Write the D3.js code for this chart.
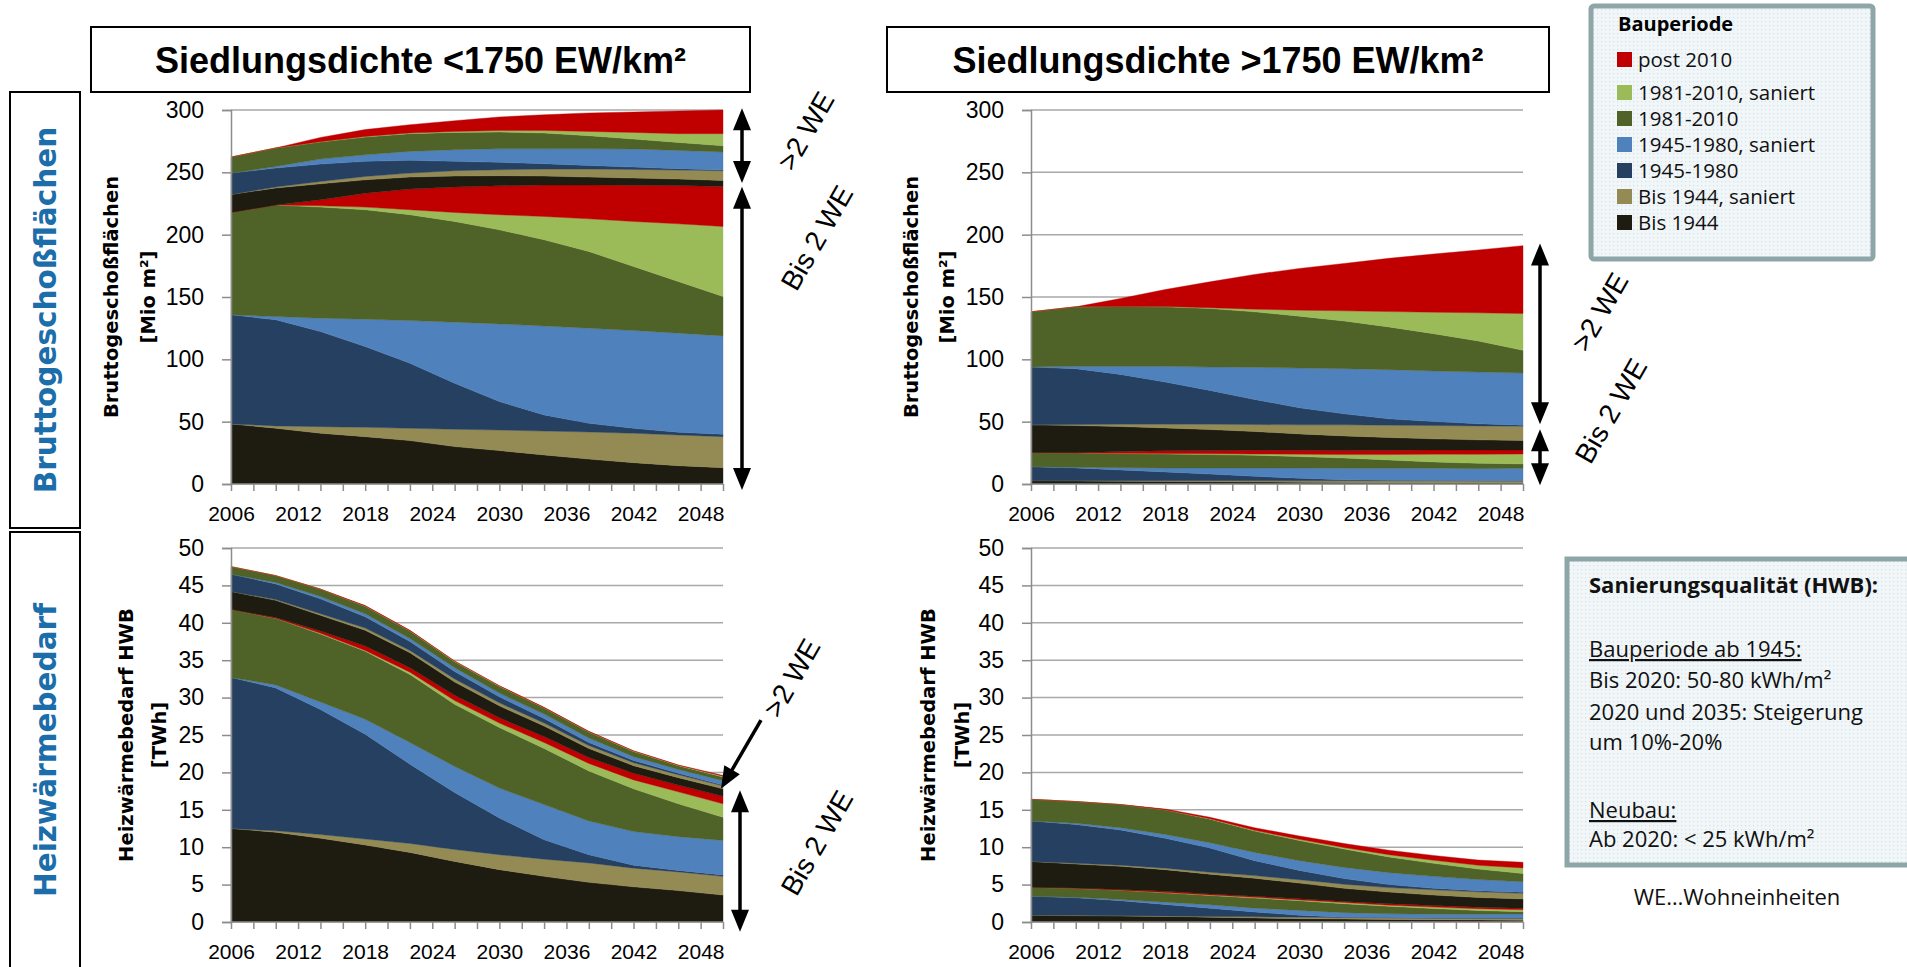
<!DOCTYPE html>
<html>
<head>
<meta charset="utf-8">
<script src="https://cdn.jsdelivr.net/npm/d3@7"></script>
<style>
  body { margin: 0; background: #fff; }
  svg text { font-family: "Liberation Sans", Arial, sans-serif; }
</style>
</head>
<body>
<svg id="chart" width="1907" height="967"></svg>
<script>
// years with data points, tick labels
const years = [2006, 2010, 2014, 2018, 2022, 2026, 2030, 2034, 2038, 2042, 2046, 2050];
const labelYears = [2006, 2012, 2018, 2024, 2030, 2036, 2042, 2048];

const periods = ["Bis 1944", "Bis 1944, saniert", "1945-1980", "1945-1980, saniert",
                 "1981-2010", "1981-2010, saniert", "post 2010"];
const periodColors = ["#1e1b10", "#948a54", "#254061", "#4f81bd", "#4f6228", "#9bbb59", "#c00000"];

// Bruttogeschossflaechen, Siedlungsdichte <1750 (Mio m2) - rows follow periods
const gfaLowBis2 = [
  [48.2, 44.7, 40.7, 38.0, 34.8, 30.0, 26.8, 23.3, 20.0, 17.1, 14.7, 13.1],
  [0, 1.9, 5.3, 7.5, 9.9, 13.9, 16.5, 19.2, 21.7, 23.6, 24.6, 24.9],
  [87.5, 85.1, 76.3, 64.7, 52.2, 36.9, 22.8, 12.9, 7.0, 4.0, 2.2, 1.9],
  [0, 2.6, 10.7, 22.0, 34.2, 49.0, 62.3, 71.4, 76.3, 78.4, 79.5, 78.9],
  [82.1, 89.4, 89.1, 87.8, 84.9, 80.8, 75.5, 69.1, 61.5, 51.4, 41.4, 31.6],
  [0, 0, 1.1, 2.1, 4.0, 7.2, 12.1, 18.7, 26.2, 36.1, 46.3, 56.2],
  [0, 0, 4.8, 11.2, 16.6, 20.4, 23.2, 25.2, 27.1, 29.0, 30.7, 32.1]
];
const gfaLowMulti = [
  [14.5, 13.7, 12.8, 10.7, 9.6, 8.8, 8.1, 7.2, 6.4, 5.8, 5.2, 4.8],
  [0, 0.8, 1.9, 2.7, 3.2, 4.3, 4.8, 5.6, 6.4, 6.9, 7.2, 7.8],
  [17.1, 15.2, 13.9, 12.1, 10.2, 7.5, 5.9, 4.3, 2.9, 1.9, 1.1, 0.5],
  [0, 1.3, 4.0, 5.3, 7.2, 9.3, 10.9, 12.0, 13.4, 14.5, 14.7, 14.5],
  [12.8, 14.8, 13.7, 14.2, 14.2, 13.9, 13.4, 12.6, 10.5, 8.0, 6.4, 5.0],
  [0, 0, 0.3, 0.5, 0.5, 0.8, 1.3, 2.1, 3.4, 5.3, 7.0, 9.7],
  [0, 0, 3.4, 5.5, 6.7, 8.6, 10.8, 12.6, 14.8, 16.4, 18.2, 19.0]
];

// Bruttogeschossflaechen, Siedlungsdichte >1750
const gfaHighBis2 = [
  [2.7, 2.5, 2.2, 2.0, 1.8, 1.6, 1.4, 1.2, 1.1, 1.0, 1.0, 1.1],
  [0, 0.2, 0.4, 0.6, 0.8, 1.0, 1.2, 1.4, 1.5, 1.6, 1.6, 1.3],
  [11.2, 10.2, 8.7, 7.1, 5.4, 3.6, 2.0, 0.9, 0.4, 0.2, 0.1, 0.3],
  [0, 0.5, 1.8, 3.2, 4.9, 6.7, 8.3, 9.1, 9.6, 9.8, 9.6, 9.9],
  [11.3, 11.3, 11.3, 11.2, 10.7, 10.2, 9.1, 8.3, 6.7, 5.1, 4.3, 3.5],
  [0, 0, 0.2, 0.4, 0.6, 1.0, 1.9, 2.7, 4.3, 6.2, 7.2, 8.0],
  [0, 0.3, 1.5, 2.2, 2.6, 2.9, 3.1, 3.3, 3.4, 3.4, 3.5, 3.2]
];
const gfaHighMulti = [
  [22.3, 21.9, 20.0, 18.3, 16.9, 15.1, 13.2, 11.7, 10.3, 8.9, 8.1, 7.6],
  [0, 0.8, 1.9, 3.0, 4.3, 5.6, 7.3, 8.9, 9.9, 10.7, 11.2, 11.5],
  [46.3, 44.8, 39.9, 33.8, 27.1, 20.1, 13.6, 8.8, 5.1, 3.2, 1.7, 0.8],
  [0, 1.9, 6.5, 12.6, 18.7, 25.8, 31.9, 36.2, 39.4, 40.5, 41.5, 41.8],
  [44.3, 47.7, 48.0, 47.7, 47.0, 44.5, 41.6, 38.3, 34.3, 30.0, 24.9, 18.2],
  [0, 0, 0, 0.3, 0.6, 2.1, 4.8, 8.1, 12.3, 17.2, 22.6, 29.5],
  [0, 0, 6.4, 13.6, 20.8, 27.9, 33.5, 38.0, 42.7, 46.7, 50.4, 54.5]
];

// Heizwaermebedarf, Siedlungsdichte <1750 (TWh)
const hwbLowBis2 = [
  [12.5, 12.0, 11.2, 10.3, 9.3, 8.1, 7.0, 6.1, 5.3, 4.7, 4.2, 3.6],
  [0, 0.2, 0.5, 0.8, 1.2, 1.6, 2.0, 2.3, 2.6, 2.5, 2.5, 2.5],
  [20.2, 19.1, 16.7, 14.0, 10.6, 7.6, 4.9, 2.6, 1.1, 0.4, 0.2, 0.2],
  [0, 0.4, 1.0, 2.0, 2.9, 3.5, 4.0, 4.7, 4.5, 4.5, 4.5, 4.6],
  [9.1, 8.9, 9.1, 9.1, 9.1, 8.3, 8.1, 7.5, 6.7, 5.7, 4.4, 3.1],
  [0, 0, 0.1, 0.1, 0.3, 0.5, 0.6, 0.8, 1.0, 1.2, 1.6, 1.8],
  [0, 0.1, 0.3, 0.6, 0.6, 0.7, 0.7, 0.8, 0.8, 0.9, 0.9, 1.0]
];
const hwbLowMulti = [
  [2.4, 2.3, 2.1, 2.1, 2.0, 1.8, 1.6, 1.4, 1.2, 1.0, 1.0, 1.0],
  [0, 0.1, 0.2, 0.3, 0.3, 0.4, 0.4, 0.4, 0.4, 0.4, 0.4, 0.4],
  [2.3, 2.1, 2.0, 1.5, 1.2, 1.0, 0.8, 0.6, 0.4, 0.3, 0.2, 0.1],
  [0, 0.2, 0.3, 0.4, 0.4, 0.5, 0.5, 0.6, 0.6, 0.5, 0.5, 0.6],
  [1.0, 0.9, 1.0, 1.0, 1.0, 0.8, 0.9, 0.8, 0.8, 0.7, 0.5, 0.5],
  [0, 0, 0, 0.05, 0.05, 0.05, 0.05, 0.05, 0.05, 0.05, 0.05, 0.1],
  [0, 0, 0, 0.05, 0.05, 0.05, 0.05, 0.05, 0.05, 0.05, 0.05, 0.1]
];

// Heizwaermebedarf, Siedlungsdichte >1750
const hwbHighBis2 = [
  [0.9, 0.85, 0.8, 0.75, 0.65, 0.55, 0.45, 0.4, 0.35, 0.3, 0.28, 0.25],
  [0, 0.05, 0.05, 0.05, 0.1, 0.15, 0.2, 0.2, 0.2, 0.2, 0.22, 0.25],
  [2.55, 2.35, 2.0, 1.55, 1.1, 0.65, 0.25, 0.05, 0.05, 0.05, 0.03, 0.03],
  [0, 0.05, 0.15, 0.3, 0.45, 0.5, 0.65, 0.6, 0.5, 0.5, 0.5, 0.55],
  [1.2, 1.2, 1.25, 1.25, 1.25, 1.35, 1.3, 1.2, 1.0, 0.75, 0.5, 0.3],
  [0, 0, 0, 0.05, 0.05, 0.1, 0.1, 0.15, 0.15, 0.2, 0.25, 0.25],
  [0, 0.05, 0.1, 0.15, 0.15, 0.15, 0.15, 0.15, 0.2, 0.2, 0.2, 0.2]
];
const hwbHighMulti = [
  [3.45, 3.2, 3.1, 2.9, 2.65, 2.4, 2.1, 1.75, 1.55, 1.4, 1.3, 1.25],
  [0, 0.1, 0.15, 0.2, 0.25, 0.35, 0.45, 0.55, 0.6, 0.7, 0.75, 0.75],
  [5.4, 5.2, 4.7, 4.0, 3.25, 2.0, 1.25, 0.75, 0.4, 0.2, 0.15, 0.15],
  [0, 0.15, 0.3, 0.5, 0.7, 1.1, 1.3, 1.5, 1.6, 1.6, 1.5, 1.4],
  [2.9, 2.9, 3.1, 3.3, 3.15, 2.85, 2.7, 2.45, 2.1, 1.75, 1.4, 1.1],
  [0, 0, 0, 0, 0.05, 0.1, 0.15, 0.2, 0.3, 0.4, 0.5, 0.75],
  [0, 0, 0, 0.1, 0.2, 0.35, 0.45, 0.55, 0.6, 0.65, 0.7, 0.75]
];

const svg = d3.select("#chart");

// dotted fill used by the two text boxes
const defs = svg.append("defs");
const pat = defs.append("pattern").attr("id", "dots")
  .attr("width", 4).attr("height", 4).attr("patternUnits", "userSpaceOnUse");
pat.append("rect").attr("width", 4).attr("height", 4).attr("fill", "#f1f6f8");
pat.append("rect").attr("x", 1).attr("y", 1).attr("width", 1.2).attr("height", 1.2).attr("fill", "#d3e2e8");

function drawPanel(p) {
  const x = d3.scaleLinear().domain([2006, 2050]).range([p.x0, p.x1]);
  const y = d3.scaleLinear().domain([0, p.yMax]).range([p.yB, p.yT]);
  const g = svg.append("g");

  const yTicks = d3.range(0, p.yMax + 0.001, p.yStep);

  g.selectAll("line.grid").data(yTicks.filter(d => d > 0)).enter()
    .append("line").attr("class", "grid")
    .attr("x1", p.x0).attr("x2", p.x1)
    .attr("y1", d => y(d)).attr("y2", d => y(d))
    .attr("stroke", "#a9a9a9").attr("stroke-width", 1.5);

  const rows = years.map((yr, i) => {
    const r = { year: yr };
    p.bis2.forEach((s, k) => r["b" + k] = s[i]);
    p.multi.forEach((s, k) => r["m" + k] = s[i]);
    return r;
  });
  const keys = periods.map((_, k) => "b" + k).concat(periods.map((_, k) => "m" + k));
  const stacked = d3.stack().keys(keys)(rows);

  const area = d3.area()
    .x(d => x(d.data.year))
    .y0(d => y(d[0]))
    .y1(d => y(d[1]));

  g.selectAll("path.layer").data(stacked).enter()
    .append("path").attr("class", "layer")
    .attr("d", area)
    .attr("fill", (d, i) => periodColors[i % 7])
    .attr("stroke", (d, i) => periodColors[i % 7])
    .attr("stroke-width", 0.4);

  const yAxis = g.append("g").attr("transform", `translate(${p.x0},0)`)
    .call(d3.axisLeft(y).tickValues(yTicks).tickSize(9).tickPadding(18).tickFormat(d3.format("d")));
  yAxis.selectAll("path,line").attr("stroke", "#8c8c8c").attr("stroke-width", 1.5);
  yAxis.selectAll("text").attr("font-size", 23).attr("fill", "#000")
    .style("font-family", "'Liberation Sans', Arial, sans-serif");

  const xAxis = g.append("g").attr("transform", `translate(0,${p.yB})`)
    .call(d3.axisBottom(x).tickValues(d3.range(2006, 2051, 2)).tickSize(7).tickPadding(15)
      .tickFormat(d => labelYears.includes(d) ? d : ""));
  xAxis.select(".domain").remove();
  xAxis.append("line").attr("x1", p.x0).attr("x2", p.x1)
    .attr("stroke", "#8c8c8c").attr("stroke-width", 1.5);
  xAxis.selectAll("line").attr("stroke", "#8c8c8c").attr("stroke-width", 1.5);
  xAxis.selectAll("text").attr("font-size", 21).attr("fill", "#000")
    .style("font-family", "'Liberation Sans', Arial, sans-serif");

  // axis title, two lines
  p.yTitle.forEach((t, i) => {
    g.append("text")
      .attr("transform", `translate(${p.titleX + i * p.titleGap},${p.titleY}) rotate(-90)`)
      .attr("text-anchor", "middle").attr("dominant-baseline", "central")
      .style("font-family", "'DejaVu Sans', Verdana, sans-serif")
      .attr("font-weight", "bold").attr("font-size", 19.5).text(t);
  });
  return { x, y };
}

function arrowHead(g, xt, yt, ang) {
  const L = 22, W = 9;
  const bx = xt - L * Math.cos(ang), by = yt - L * Math.sin(ang);
  const nx = -Math.sin(ang), ny = Math.cos(ang);
  g.append("path")
    .attr("d", `M${xt},${yt}L${bx + nx * W},${by + ny * W}L${bx - nx * W},${by - ny * W}Z`)
    .attr("fill", "#000");
}
function arrow(x1, y1, x2, y2, both) {
  const g = svg.append("g");
  const ang = Math.atan2(y2 - y1, x2 - x1);
  const s = both ? 18 : 0;
  g.append("line")
    .attr("x1", x1 + s * Math.cos(ang)).attr("y1", y1 + s * Math.sin(ang))
    .attr("x2", x2 - 18 * Math.cos(ang)).attr("y2", y2 - 18 * Math.sin(ang))
    .attr("stroke", "#000").attr("stroke-width", 3.5);
  arrowHead(g, x2, y2, ang);
  if (both) arrowHead(g, x1, y1, ang + Math.PI);
}
function slanted(x, y, t) {
  svg.append("text").attr("transform", `translate(${x},${y}) rotate(-60)`)
    .attr("text-anchor", "middle").attr("dominant-baseline", "central")
    .attr("font-size", 28).text(t);
}

// panels
const tl = drawPanel({ x0: 231, x1: 723, yT: 110, yB: 484, yMax: 300, yStep: 50,
  bis2: gfaLowBis2, multi: gfaLowMulti, yTitle: ["Bruttogeschoßflächen", "[Mio m²]"],
  titleX: 111, titleGap: 37, titleY: 297 });
const tr = drawPanel({ x0: 1031, x1: 1523, yT: 110, yB: 484, yMax: 300, yStep: 50,
  bis2: gfaHighBis2, multi: gfaHighMulti, yTitle: ["Bruttogeschoßflächen", "[Mio m²]"],
  titleX: 911, titleGap: 36, titleY: 297 });
const bl = drawPanel({ x0: 231, x1: 723, yT: 548, yB: 922, yMax: 50, yStep: 5,
  bis2: hwbLowBis2, multi: hwbLowMulti, yTitle: ["Heizwärmebedarf HWB", "[TWh]"],
  titleX: 126, titleGap: 33, titleY: 735 });
const br = drawPanel({ x0: 1031, x1: 1523, yT: 548, yB: 922, yMax: 50, yStep: 5,
  bis2: hwbHighBis2, multi: hwbHighMulti, yTitle: ["Heizwärmebedarf HWB", "[TWh]"],
  titleX: 928, titleGap: 34, titleY: 735 });

// title boxes
[[91, 750, "Siedlungsdichte <1750 EW/km²"], [887, 1549, "Siedlungsdichte >1750 EW/km²"]].forEach(b => {
  svg.append("rect").attr("x", b[0]).attr("y", 27).attr("width", b[1] - b[0]).attr("height", 65)
    .attr("fill", "#fff").attr("stroke", "#000").attr("stroke-width", 2);
  svg.append("text").attr("x", (b[0] + b[1]) / 2).attr("y", 73)
    .attr("text-anchor", "middle").attr("font-weight", "bold").attr("font-size", 36).text(b[2]);
});

// row label boxes
[[92, 528, 310, "Bruttogeschoßflächen"], [532, 975, 750, "Heizwärmebedarf"]].forEach(b => {
  svg.append("rect").attr("x", 10).attr("y", b[0]).attr("width", 70).attr("height", b[1] - b[0])
    .attr("fill", "#fff").attr("stroke", "#000").attr("stroke-width", 2);
  svg.append("text").attr("transform", `translate(46,${b[2]}) rotate(-90)`)
    .attr("text-anchor", "middle").attr("dominant-baseline", "central")
    .style("font-family", "'DejaVu Sans', Verdana, sans-serif")
    .attr("font-weight", "bold").attr("font-size", 29.5).attr("fill", "#1b6eaa").text(b[3]);
});

// WE annotations
arrow(742, tl.y(241.5), 742, tl.y(301.5), true);
arrow(742, tl.y(-4.8), 742, tl.y(238.5), true);
slanted(806, 131, ">2 WE");
slanted(817, 238, "Bis 2 WE");

arrow(1540, tr.y(48), 1540, tr.y(193), true);
arrow(1540, tr.y(-1), 1540, tr.y(44), true);
slanted(1600, 312, ">2 WE");
slanted(1611, 411, "Bis 2 WE");

arrow(740, bl.y(-1.3), 740, bl.y(17.6), true);
arrow(761, bl.y(27), 721, bl.y(17.8), false);
slanted(792, 678, ">2 WE");
slanted(817, 843, "Bis 2 WE");

// legend
const leg = svg.append("g");
leg.append("rect").attr("x", 1591).attr("y", 6).attr("width", 282).attr("height", 253).attr("rx", 3)
  .attr("fill", "url(#dots)").attr("stroke", "#8fa6a9").attr("stroke-width", 5);
leg.append("text").attr("x", 1618).attr("y", 31).attr("font-weight", "bold").attr("font-size", 20)
  .style("font-family", "'Open Sans', sans-serif").text("Bauperiode");
periods.slice().reverse().forEach((p, i) => {
  const base = i === 0 ? 67 : 100 + (i - 1) * 26;
  const k = periods.length - 1 - i;
  leg.append("rect").attr("x", 1617).attr("y", base - 15).attr("width", 15).attr("height", 15)
    .attr("fill", periodColors[k]);
  leg.append("text").attr("x", 1638).attr("y", base).attr("font-size", 20.5)
    .style("font-family", "'Open Sans', sans-serif").attr("fill", "#111").text(p);
});

// renovation note
const note = svg.append("g");
note.append("rect").attr("x", 1567).attr("y", 559).attr("width", 400).attr("height", 306)
  .attr("fill", "url(#dots)").attr("stroke", "#8fa6a9").attr("stroke-width", 5);
const noteLines = [
  [593, "Sanierungsqualität (HWB):", "bold", false],
  [657, "Bauperiode ab 1945:", "normal", true],
  [688, "Bis 2020: 50-80 kWh/m²", "normal", false],
  [720, "2020 und 2035: Steigerung", "normal", false],
  [750, "um 10%-20%", "normal", false],
  [818, "Neubau:", "normal", true],
  [847, "Ab 2020: < 25 kWh/m²", "normal", false]
];
noteLines.forEach(l => {
  note.append("text").attr("x", 1589).attr("y", l[0]).attr("font-size", 22)
    .style("font-family", "'Open Sans', sans-serif").attr("font-weight", l[2])
    .attr("text-decoration", l[3] ? "underline" : null).attr("fill", "#111").text(l[1]);
});
svg.append("text").attr("x", 1737).attr("y", 905).attr("text-anchor", "middle").attr("font-size", 22)
  .style("font-family", "'Open Sans', sans-serif").attr("fill", "#111").text("WE…Wohneinheiten");
</script>
</body>
</html>
